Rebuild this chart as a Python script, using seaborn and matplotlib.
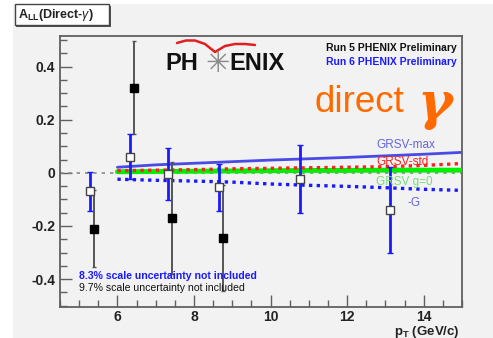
import numpy as np
import pandas as pd
import seaborn as sns
import matplotlib
matplotlib.use("Agg")
import matplotlib.pyplot as plt
from matplotlib.patches import Rectangle
from matplotlib.lines import Line2D
from matplotlib.ticker import MultipleLocator, FuncFormatter

# ---------------- data ----------------
run5_x = [5.38, 6.42, 7.43, 8.76]
run5_y = [-0.21, 0.32, -0.17, -0.245]
run5_err = [0.145, 0.175, 0.21, 0.20]

run6_x = [5.28, 6.32, 7.33, 8.64, 10.76, 13.13]
run6_y = [-0.07, 0.06, -0.006, -0.055, -0.025, -0.14]
run6_err = [0.075, 0.085, 0.098, 0.09, 0.128, 0.163]

theory_x = [6, 7, 8, 9, 10, 11, 12, 13, 14, 15]
grsv_max = [0.021, 0.030, 0.036, 0.042, 0.048, 0.053, 0.058, 0.064, 0.070, 0.077]
grsv_std = [0.008, 0.010, 0.012, 0.015, 0.017, 0.019, 0.021, 0.023, 0.028, 0.035]
grsv_g0 = [0.004, 0.005, 0.006, 0.007, 0.008, 0.009, 0.009, 0.010, 0.010, 0.010]
minus_g = [-0.024, -0.028, -0.031, -0.035, -0.042, -0.047, -0.051, -0.056, -0.062, -0.066]

x_ticks = [6, 8, 10, 12, 14]
y_ticks = [-0.4, -0.2, 0, 0.2, 0.4]

# ---------------- style ----------------
sns.set_theme(style="ticks")
plt.rcParams['font.family'] = ['Liberation Sans', 'DejaVu Sans']
plt.rcParams['axes.unicode_minus'] = False
plt.rcParams['mathtext.fontset'] = 'custom'
plt.rcParams['mathtext.rm'] = 'Liberation Sans'
plt.rcParams['mathtext.it'] = 'Liberation Sans:italic'
plt.rcParams['mathtext.bf'] = 'Liberation Sans:bold'

BG = '#f2f2f2'
fig = plt.figure(figsize=(4.93, 3.38), dpi=100, facecolor='white')
# grey canvas
fig.patches.append(Rectangle((13 / 493, 0), 1 - 13 / 493, 1 - 4 / 338,
                             transform=fig.transFigure, facecolor=BG,
                             edgecolor='none', zorder=-10))

ax = fig.add_axes([60 / 493, 31 / 338, 402 / 493, 271 / 338])
ax.set_facecolor(BG)

ax.set_xlim(4.5, 15)
ax.set_ylim(-0.505, 0.515)

# zero reference line
ax.axhline(0, color='#888888', lw=1.2, ls=(0, (2, 3)), zorder=1)

# theory curves via seaborn
df = pd.DataFrame({'x': theory_x, 'max': grsv_max, 'std': grsv_std,
                   'g0': grsv_g0, 'mg': minus_g})
sns.lineplot(data=df, x='x', y='max', ax=ax, color='#4a4ae6', lw=2.0, zorder=3)
sns.lineplot(data=df, x='x', y='g0', ax=ax, color='#00ee00', lw=3.5, zorder=3)
sns.lineplot(data=df, x='x', y='std', ax=ax, color='#ff2020', lw=2.4, zorder=4,
             linestyle=(0, (1, 1.3)))
sns.lineplot(data=df, x='x', y='mg', ax=ax, color='#1a1aff', lw=2.4, zorder=4,
             linestyle=(0, (1, 1.3)))

# data points
ax.errorbar(run5_x, run5_y, yerr=run5_err, fmt='s', color='#555555',
            mfc='black', mec='black', ms=5.5, elinewidth=1.4, capsize=1.5,
            zorder=5)
ax.errorbar(run6_x, run6_y, yerr=run6_err, fmt='s', ecolor='#1a1aff',
            mfc='white', mec='#444444', mew=1.0, ms=5.5, elinewidth=2.0,
            capsize=2, zorder=6)

# axes styling
for s in ax.spines.values():
    s.set_color('#606060')
    s.set_linewidth(1.3)
ax.set_xticks(x_ticks)
ax.set_yticks(y_ticks)
ax.xaxis.set_minor_locator(MultipleLocator(0.5))
ax.yaxis.set_minor_locator(MultipleLocator(0.05))
ax.yaxis.set_major_formatter(FuncFormatter(lambda v, p: '0' if abs(v) < 1e-9 else f'{v:g}'))
ax.tick_params(which='major', direction='in', length=8.5, width=1.0,
               color='#606060', labelsize=10, labelcolor='#222222', pad=3.5)
ax.tick_params(axis='x', which='major', pad=2.5)
ax.tick_params(which='minor', direction='in', length=4.8, width=1.0,
               color='#606060')
for lab in ax.get_xticklabels() + ax.get_yticklabels():
    lab.set_fontweight('bold')
ax.set_xlabel('')
ax.set_ylabel('')

# x axis title
ax.text(0.995, (307 - 331.5) / 271, r'p$_\mathbf{T}$ (GeV/c)', transform=ax.transAxes,
        ha='right', va='center', fontsize=9.5, fontweight='bold', color='#222222')

# title box
fig.patches.append(Rectangle((16.2 / 493, 1 - 26.5 / 338), 94.3 / 493, 20.7 / 338,
                             transform=fig.transFigure, facecolor='#555555',
                             edgecolor='none', zorder=5))
fig.patches.append(Rectangle((14.7 / 493, 1 - 25 / 338), 94.3 / 493, 20.7 / 338,
                             transform=fig.transFigure, facecolor='white',
                             edgecolor='#444444', lw=1.0, zorder=6))
fig.text(18 / 493, 1 - 14.8 / 338, r'A$_\mathbf{LL}$(Direct-$\gamma$)',
         ha='left', va='center', fontsize=9, fontweight='bold', color='#222222',
         zorder=7)

# PHENIX logo
def fx(px):
    return (px - 60) / 402

def fy(py):
    return (307 - py) / 271

ax.text(fx(198), fy(63.5), 'PH', transform=ax.transAxes, ha='right', va='center',
        fontsize=17, fontweight='bold', color='#111111')
ax.text(fx(218), fy(63.5), '✳', transform=ax.transAxes, ha='center', va='center',
        fontsize=21, color='#8a8a8a', family='DejaVu Sans')
ax.text(fx(229), fy(63.5), 'ENIX', transform=ax.transAxes, ha='left', va='center',
        fontsize=17, fontweight='bold', color='#111111')
arc_px = [177, 186, 195, 205, 215, 225, 235, 245, 255]
arc_py = [43, 40.5, 40.5, 44, 52, 46, 44, 44, 45]
ax.add_line(Line2D([fx(p) for p in arc_px], [fy(p) for p in arc_py],
                   transform=ax.transAxes, color='#e02020', lw=1.8, zorder=2))

# labels
ax.text(0.988, fy(48), 'Run 5 PHENIX Preliminary', transform=ax.transAxes,
        ha='right', va='center', fontsize=7.5, fontweight='bold', color='#111111')
ax.text(0.988, fy(62), 'Run 6 PHENIX Preliminary', transform=ax.transAxes,
        ha='right', va='center', fontsize=7.5, fontweight='bold', color='#1a1aff')
ax.text(fx(314), fy(112), 'direct', transform=ax.transAxes, ha='left',
        va='baseline', fontsize=26.5, color='#ff6a00')
ax.text(fx(435), fy(105), 'γ', transform=ax.transAxes, ha='center', va='center',
        fontsize=38, fontweight='bold', fontstyle='italic', color='#ff6a00',
        family='DejaVu Serif')

ax.text(fx(376), fy(145), 'GRSV-max', transform=ax.transAxes, ha='left',
        va='center', fontsize=8.5, color='#6464dc')
ax.text(fx(376), fy(161.7), 'GRSV-std', transform=ax.transAxes, ha='left',
        va='center', fontsize=8.5, color='#ff2020', zorder=8)
ax.text(fx(376), fy(181.7), 'GRSV g=0', transform=ax.transAxes, ha='left',
        va='center', fontsize=8.5, color='#77dd77', zorder=8)
ax.text(fx(408), fy(203), '-G', transform=ax.transAxes, ha='left',
        va='center', fontsize=8.5, color='#6464dc')

ax.text(fx(79), fy(276), '8.3% scale uncertainty not included',
        transform=ax.transAxes, ha='left', va='center', fontsize=7.6,
        fontweight='bold', color='#1a1aff', zorder=8)
ax.text(fx(79), fy(288.3), '9.7% scale uncertainty not included',
        transform=ax.transAxes, ha='left', va='center', fontsize=7.6,
        color='#111111', zorder=8)

fig.savefig('out.png', dpi=100, facecolor=fig.get_facecolor())
